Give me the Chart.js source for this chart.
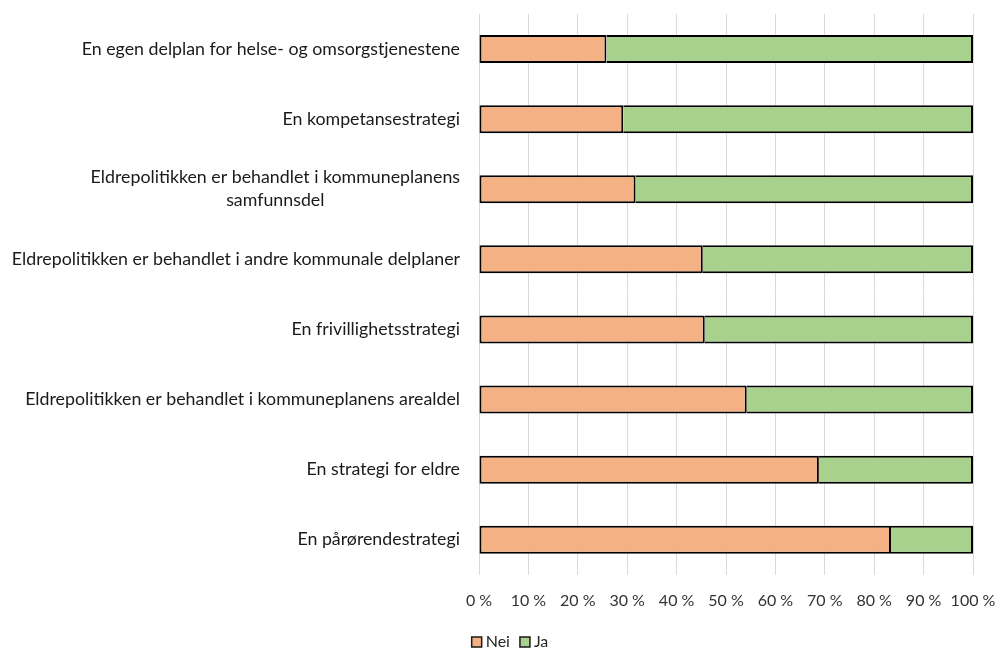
<!DOCTYPE html>
<html>
<head>
<meta charset="utf-8">
<script src="https://cdn.jsdelivr.net/npm/chart.js@4/dist/chart.umd.min.js"></script>
<style>
  html, body { margin: 0; padding: 0; background: #ffffff; }
  #wrap { width: 998px; height: 648px; position: relative; }
</style>
</head>
<body>
<div id="wrap"><canvas id="c" width="998" height="648"></canvas></div>
<script>
const categories = [
  ["En egen delplan for helse- og omsorgstjenestene"],
  ["En kompetansestrategi"],
  ["Eldrepolitikken er behandlet i kommuneplanens", "samfunnsdel"],
  ["Eldrepolitikken er behandlet i andre kommunale delplaner"],
  ["En frivillighetsstrategi"],
  ["Eldrepolitikken er behandlet i kommuneplanens arealdel"],
  ["En strategi for eldre"],
  ["En pårørendestrategi"]
];
const seriesNames = ["Nei", "Ja"];
const neiValues = [25.8, 29.2, 31.7, 45.3, 45.7, 54.2, 68.8, 83.4];
const jaValues  = [74.2, 70.8, 68.3, 54.7, 54.3, 45.8, 31.2, 16.6];
const xTickLabels = ["0 %", "10 %", "20 %", "30 %", "40 %", "50 %", "60 %", "70 %", "80 %", "90 %", "100 %"];

const FONT = "Lato, 'Liberation Sans', sans-serif";
const LABEL_SIZE = 17.8;

const yLabelPlugin = {
  id: 'yLabels',
  afterDraw(chart) {
    const ctx = chart.ctx;
    const yScale = chart.scales.y;
    const right = chart.chartArea.left - 19;
    ctx.save();
    ctx.font = LABEL_SIZE + "px " + FONT;
    ctx.fillStyle = "#1a1a1a";
    ctx.textBaseline = "middle";
    const lh = 23;
    categories.forEach((lines, i) => {
      const cy = yScale.getPixelForTick(i);
      const widths = lines.map(l => ctx.measureText(l).width);
      const maxW = Math.max(...widths);
      const centerX = right - maxW / 2;
      const y0 = cy - (lines.length - 1) * lh / 2;
      lines.forEach((l, j) => {
        ctx.textAlign = "center";
        ctx.fillText(l, centerX, y0 + j * lh);
      });
    });
    ctx.restore();
  }
};

const legendPlugin = {
  id: 'customLegend',
  afterDraw(chart) {
    const ctx = chart.ctx;
    ctx.save();
    ctx.font = "16px " + FONT;
    ctx.textBaseline = "middle";
    ctx.textAlign = "left";
    const box = 10, gapText = 4, gapItem = 10;
    const items = chart.data.datasets.map(ds => ({
      text: ds.label, fill: ds.backgroundColor, w: box + gapText + ctx.measureText(ds.label).width
    }));
    const total = items.reduce((s, it) => s + it.w, 0) + gapItem * (items.length - 1);
    let x = 510 - total / 2;
    const cy = 642;
    items.forEach(it => {
      ctx.fillStyle = it.fill;
      ctx.fillRect(x, cy - box / 2, box, box);
      ctx.strokeStyle = '#1a1a1a';
      ctx.lineWidth = 1.5;
      ctx.strokeRect(x, cy - box / 2, box, box);
      ctx.fillStyle = '#262626';
      ctx.fillText(it.text, x + box + gapText, cy);
      x += it.w + gapItem;
    });
    ctx.restore();
  }
};

new Chart(document.getElementById('c'), {
  type: 'bar',
  data: {
    labels: categories.map(c => c.join(' ')),
    datasets: [
      {
        label: seriesNames[0],
        data: neiValues,
        backgroundColor: '#F4B183',
        borderColor: '#000000',
        borderWidth: 2,
        borderSkipped: false,
        barPercentage: 0.8,
        categoryPercentage: 0.5
      },
      {
        label: seriesNames[1],
        data: jaValues,
        backgroundColor: '#A9D18E',
        borderColor: '#000000',
        borderWidth: {top: 2, bottom: 2, right: 2, left: 0},
        borderSkipped: false,
        barPercentage: 0.8,
        categoryPercentage: 0.5
      }
    ]
  },
  options: {
    indexAxis: 'y',
    responsive: false,
    animation: false,
    devicePixelRatio: 1,
    layout: { padding: { left: 47, right: 25, top: 14, bottom: 22 } },
    scales: {
      x: {
        stacked: true,
        min: 0,
        max: 100,
        ticks: {
          stepSize: 10,
          padding: 16,
          maxRotation: 0,
          minRotation: 0,
          autoSkip: false,
          color: '#333333',
          font: { family: FONT, size: 16 },
          callback: (v, i) => xTickLabels[i]
        },
        grid: { color: '#D9D9D9', lineWidth: 1, drawTicks: false },
        border: { display: false },
        afterFit: (scale) => { scale.paddingLeft = 0; scale.paddingRight = 0; }
      },
      y: {
        stacked: true,
        ticks: { display: false },
        grid: { display: false },
        border: { display: false },
        afterFit: (scale) => { scale.width = 432; }
      }
    },
    plugins: {
      legend: { display: false },
      tooltip: { enabled: false }
    }
  },
  plugins: [yLabelPlugin, legendPlugin]
});
</script>
</body>
</html>
